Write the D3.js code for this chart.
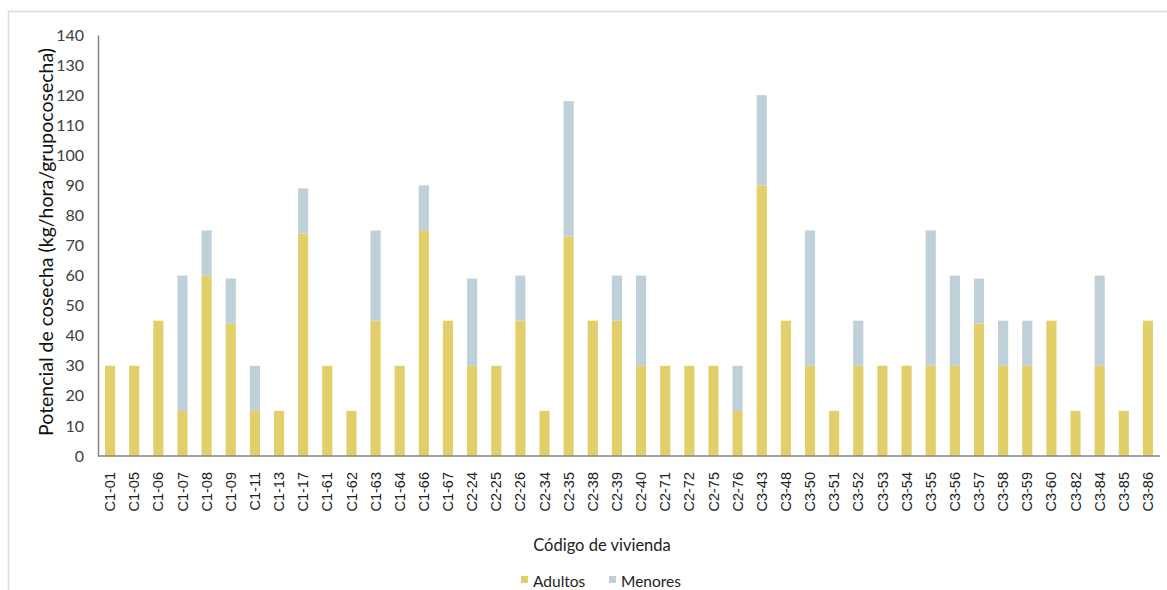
<!DOCTYPE html>
<html>
<head>
<meta charset="utf-8">
<script src="https://cdn.jsdelivr.net/npm/d3@7"></script>
<style>
  html, body { margin: 0; padding: 0; background: #fff; }
  svg { display: block; }
</style>
</head>
<body>
<svg id="chart" width="1167" height="590"></svg>
<script>
// Household codes along the x axis
const codes = [
  "C1-01","C1-05","C1-06","C1-07","C1-08","C1-09","C1-11","C1-13","C1-17","C1-61","C1-62",
  "C1-63","C1-64","C1-66","C1-67","C2-24","C2-25","C2-26","C2-34","C2-35","C2-38","C2-39",
  "C2-40","C2-71","C2-72","C2-75","C2-76","C3-43","C3-48","C3-50","C3-51","C3-52","C3-53",
  "C3-54","C3-55","C3-56","C3-57","C3-58","C3-59","C3-60","C3-82","C3-84","C3-85","C3-86"
];
// Harvest potential contributed by adults (kg/hour/harvest group)
const adultos = [
  30,30,45,15,60,44,15,15,74,30,15,
  45,30,75,45,30,30,45,15,73,45,45,
  30,30,30,30,15,90,45,30,15,30,30,
  30,30,30,44,30,30,45,15,30,15,45
];
// Harvest potential contributed by minors (kg/hour/harvest group)
const menores = [
  0,0,0,45,15,15,15,0,15,0,0,
  30,0,15,0,29,0,15,0,45,0,15,
  30,0,0,0,15,30,0,45,0,15,0,
  0,45,30,15,15,15,0,0,30,0,0
];
const yTicks = [0,10,20,30,40,50,60,70,80,90,100,110,120,130,140];
const seriesNames = ["Adultos", "Menores"];
const seriesColors = ["#E2CF6A", "#BFD0D8"];

const svg = d3.select("#chart");
const margin = { left: 98, right: 7, top: 35, bottom: 134 };
const W = 1167, H = 590;
const x0 = margin.left, x1 = W - margin.right;
const y0 = H - margin.bottom, y1 = margin.top;

// Outer frame
svg.append("rect")
  .attr("x", 8.5).attr("y", 11.5)
  .attr("width", 1170).attr("height", 600)
  .attr("fill", "none").attr("stroke", "#D9D9D9").attr("stroke-width", 1.5);

const x = d3.scaleBand().domain(codes).range([x0, x1]).paddingInner(0.58).paddingOuter(0.29);
const y = d3.scaleLinear().domain([0, 140]).range([y0, y1]);

const rows = codes.map((c, i) => ({ code: c, Adultos: adultos[i], Menores: menores[i] }));
const stacked = d3.stack().keys(seriesNames)(rows);

const color = d3.scaleOrdinal().domain(seriesNames).range(seriesColors);

svg.append("g").selectAll("g")
  .data(stacked).join("g")
  .attr("fill", d => color(d.key))
  .selectAll("rect")
  .data(d => d.filter(s => s[1] - s[0] > 0))
  .join("rect")
  .attr("x", d => x(d.data.code))
  .attr("width", x.bandwidth())
  .attr("y", d => y(d[1]))
  .attr("height", d => y(d[0]) - y(d[1]));

// Y axis
const yAxis = svg.append("g")
  .attr("transform", `translate(${x0},0)`)
  .call(d3.axisLeft(y).tickValues(yTicks).tickSize(0).tickPadding(14).tickFormat(d3.format("d")));
yAxis.select(".domain").attr("stroke", "#868686").attr("stroke-width", 1.5);
yAxis.selectAll("text")
  .attr("font-family", "Lato, 'Open Sans', sans-serif")
  .attr("font-size", 16).attr("fill", "#404040");

// X axis
const xAxis = svg.append("g")
  .attr("transform", `translate(0,${y0})`)
  .call(d3.axisBottom(x).tickSize(0).tickPadding(0));
xAxis.select(".domain").attr("d", `M${x0},0H${x1}`).attr("stroke", "#868686").attr("stroke-width", 1.5);
xAxis.selectAll("text")
  .attr("font-family", "'Liberation Sans', Arial, sans-serif")
  .attr("font-size", 14.5).attr("fill", "#222")
  .attr("text-anchor", "end")
  .attr("dy", "0.35em")
  .attr("transform", "translate(0,16) rotate(-90)");

// Axis titles
svg.append("text")
  .attr("x", 602).attr("y", 551)
  .attr("text-anchor", "middle")
  .attr("font-family", "Lato, 'Open Sans', sans-serif")
  .attr("font-size", 16.5).attr("fill", "#222")
  .text("Código de vivienda");

svg.append("text")
  .attr("transform", `translate(53,242) rotate(-90)`)
  .attr("text-anchor", "middle")
  .attr("font-family", "Lato, 'Open Sans', sans-serif")
  .attr("font-size", 19.5).attr("fill", "#111")
  .text("Potencial de cosecha (kg/hora/grupocosecha)");

// Legend
const legendX = [521, 609];
const legend = svg.append("g").selectAll("g")
  .data(seriesNames).join("g")
  .attr("transform", (d, i) => `translate(${legendX[i]},0)`);
legend.append("rect")
  .attr("x", 0).attr("y", 576).attr("width", 7).attr("height", 7)
  .attr("fill", d => color(d));
legend.append("text")
  .attr("x", 12).attr("y", 587)
  .attr("font-family", "Lato, 'Open Sans', sans-serif")
  .attr("font-size", 15.5).attr("fill", "#222")
  .text(d => d);
</script>
</body>
</html>
